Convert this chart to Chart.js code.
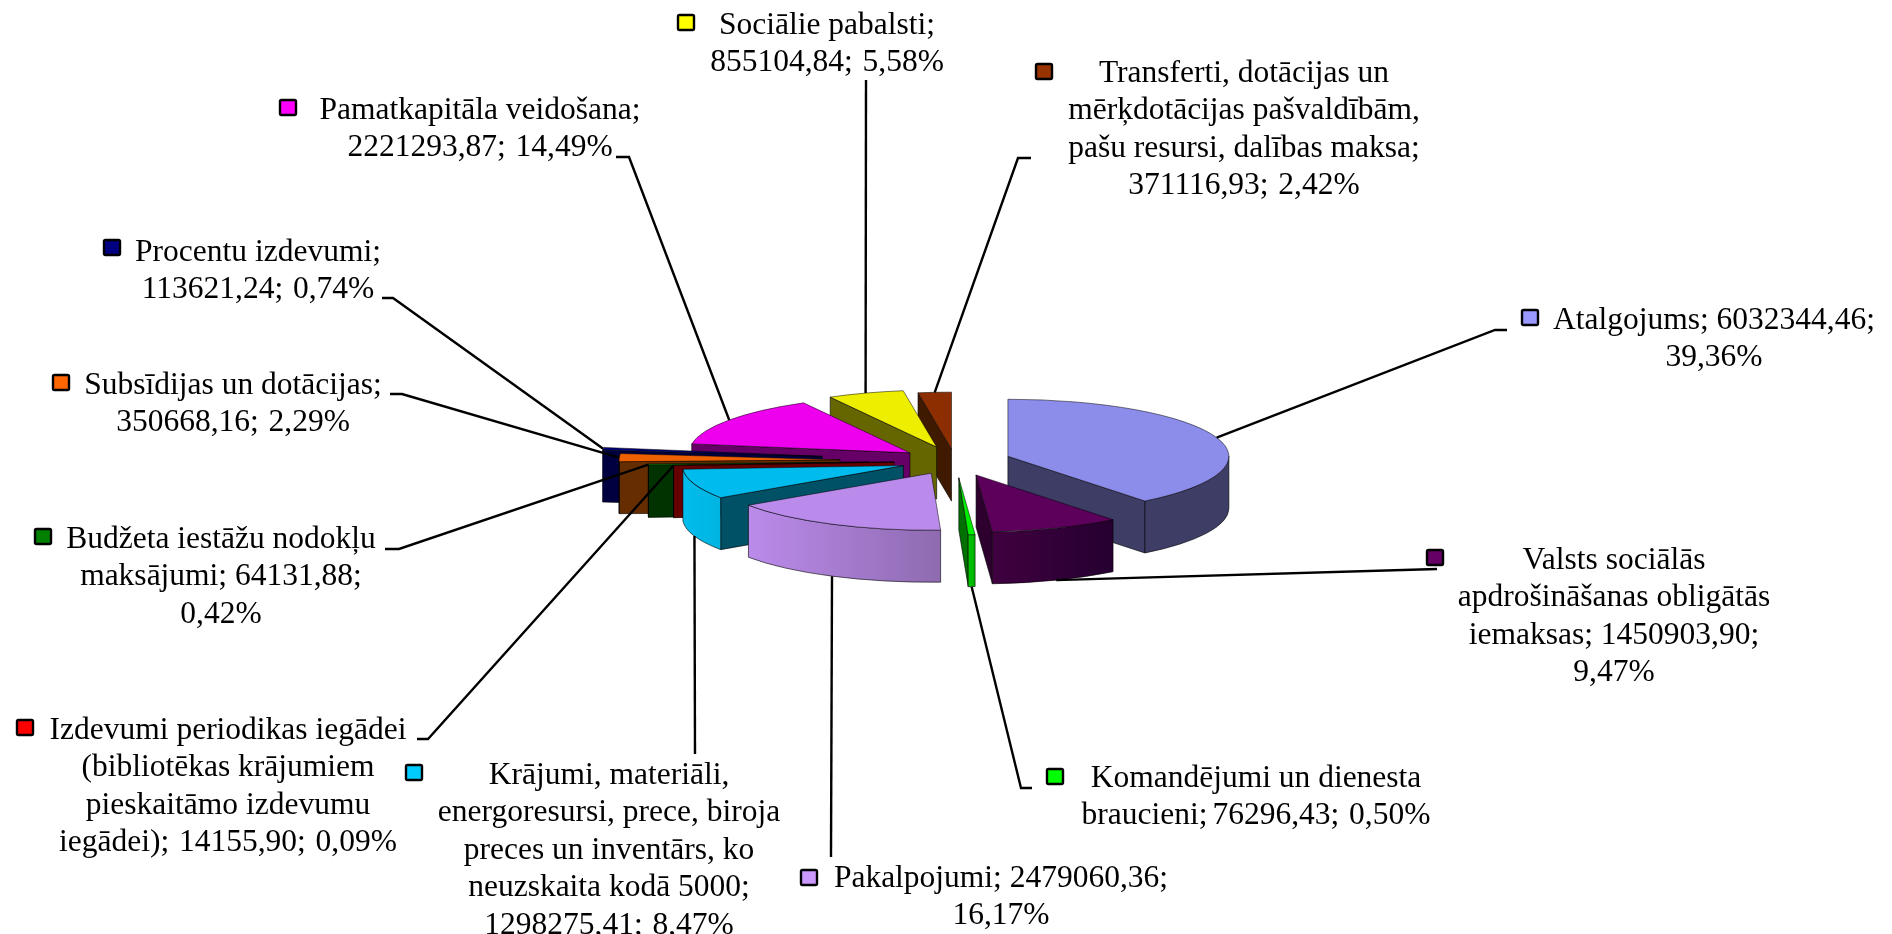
<!DOCTYPE html>
<html>
<head>
<meta charset="utf-8">
<title>Izdevumi</title>
<script src="https://cdn.jsdelivr.net/npm/chart.js@4"></script>
<style>
  html, body { margin: 0; padding: 0; background: #fff; }
  #pie { display: block; }
</style>
</head>
<body>
<canvas id="pie" width="1892" height="934"></canvas>
<script>
/* data */
const categories = ["Atalgojums", "Valsts sociālās apdrošināšanas obligātās iemaksas", "Komandējumi un dienesta braucieni", "Pakalpojumi", "Krājumi, materiāli, energoresursi, prece, biroja preces un inventārs, ko neuzskaita kodā 5000", "Izdevumi periodikas iegādei (bibliotēkas krājumiem pieskaitāmo izdevumu iegādei)", "Budžeta iestāžu nodokļu maksājumi", "Subsīdijas un dotācijas", "Procentu izdevumi", "Pamatkapitāla veidošana", "Sociālie pabalsti", "Transferti, dotācijas un mērķdotācijas pašvaldībām, pašu resursi, dalības maksa"];
const values = [6032344.46, 1450903.90, 76296.43, 2479060.36, 1298275.41, 14155.90, 64131.88, 350668.16, 113621.24, 2221293.87, 855104.84, 371116.93];

const labelLines = [
  ["Atalgojums; 6032344,46;", "39,36%"],
  ["Valsts sociālās", "apdrošināšanas obligātās", "iemaksas; 1450903,90;", "9,47%"],
  ["Komandējumi un dienesta", "braucieni; 76296,43;  0,50%"],
  ["Pakalpojumi; 2479060,36;", "16,17%"],
  ["Krājumi, materiāli,", "energoresursi, prece, biroja", "preces un inventārs, ko", "neuzskaita kodā 5000;", "1298275,41;  8,47%"],
  ["Izdevumi periodikas iegādei", "(bibliotēkas krājumiem", "pieskaitāmo izdevumu", "iegādei);  14155,90;  0,09%"],
  ["Budžeta iestāžu nodokļu", "maksājumi; 64131,88;", "0,42%"],
  ["Subsīdijas un dotācijas;", "350668,16;  2,29%"],
  ["Procentu izdevumi;", "113621,24;  0,74%"],
  ["Pamatkapitāla veidošana;", "2221293,87;  14,49%"],
  ["Sociālie pabalsti;", "855104,84;  5,58%"],
  ["Transferti, dotācijas un", "mērķdotācijas pašvaldībām,", "pašu resursi, dalības maksa;", "371116,93;  2,42%"]
];

/* style */
const keyColors = ["#9999FF", "#660066", "#00FF00", "#CC99FF", "#00CCFF", "#FF0000", "#008000", "#FF6600", "#000080", "#FF00FF", "#FFFF00", "#993300"];
const topColors = ["#8C8CEB", "#5C005C", "#00EE00", "#BB8BEB", "#00BCEE", "#EE0000", "#007000", "#EE6000", "#000078", "#EE00EE", "#EEEE00", "#8C2E00"];
const sideColors = ["#3D3D66", "#2E002E", "#007000", "#5C005C", "#005066", "#660000", "#003300", "#662E00", "#000040", "#660066", "#666600", "#3F1A00"];
const wallLeft = ["#3D3D66", "#400040", "#00C800", "#BB8BEB", "#00BCEE", "#660000", "#003300", "#662E00", "#000040", "#660066", "#666600", "#3F1A00"];
const wallRight = ["#3D3D66", "#250030", "#00B000", "#8E6BB0", "#00B4E0", "#660000", "#003300", "#662E00", "#000040", "#660066", "#666600", "#3F1A00"];

const explode = [56, 58, 65, 53, 54.5, 61, 86, 115, 134, 55, 57, 46];
const drawOrder = [11, 10, 9, 8, 7, 6, 5, 4, 3, 0, 1, 2];

const squash = 0.258;
const depth = 52;

/* label layout: centre x, first baseline y, key x, key y, leader elbow */
const labelX = [1714, 1614, 1256, 1001, 609, 228, 221, 233, 258, 480, 827, 1244];
const labelY = [329, 569, 787, 887, 784, 739, 548, 394, 261, 119, 34, 82];
const keyX = [1522, 1427, 1047, 801, 406, 17, 35, 53, 104, 280, 678, 1036];
const keyY = [310, 550, 769, 870, 765, 720, 529, 375, 240, 100, 15, 64];
const elbows = [
  [[1495, 330], [1507, 330]],
  [[1437, 569]],
  [[1021, 788], [1032, 788]],
  [[831, 857]],
  [[695, 754]],
  [[428, 739], [417, 739]],
  [[399, 549], [385, 549]],
  [[402, 394], [390, 394]],
  [[393, 298], [382, 298]],
  [[629, 157], [616, 157]],
  [[866, 80]],
  [[1018, 158], [1031, 158]]
];

const lineHeight = 37.4;
const labelFont = "31.5px 'Liberation Serif'";

function sliceCentre(arc, i) {
  const mid = (arc.startAngle + arc.endAngle) / 2;
  return {
    x: arc.x + Math.cos(mid) * explode[i],
    y: arc.y + Math.sin(mid) * explode[i] * squash
  };
}

function drawWedgeSide(ctx, c, r, angle, color) {
  const ox = c.x + Math.cos(angle) * r;
  const oy = c.y + Math.sin(angle) * r * squash;
  ctx.beginPath();
  ctx.moveTo(c.x, c.y);
  ctx.lineTo(ox, oy);
  ctx.lineTo(ox, oy + depth);
  ctx.lineTo(c.x, c.y + depth);
  ctx.closePath();
  ctx.fillStyle = color;
  ctx.fill();
  ctx.stroke();
}

function drawOuterWall(ctx, c, r, from, to, i) {
  const ry = r * squash;
  const grad = ctx.createLinearGradient(c.x + Math.cos(from) * r, 0, c.x + Math.cos(to) * r, 0);
  // from runs right to left along the front edge
  grad.addColorStop(0, wallRight[i]);
  grad.addColorStop(1, wallLeft[i]);
  ctx.beginPath();
  ctx.ellipse(c.x, c.y, r, ry, 0, from, to);
  ctx.ellipse(c.x, c.y + depth, r, ry, 0, to, from, true);
  ctx.closePath();
  ctx.fillStyle = grad;
  ctx.fill();
  ctx.stroke();
}

const pie3d = {
  id: "pie3d",
  beforeDatasetsDraw(chart) {
    const ctx = chart.ctx;
    const arcs = chart.getDatasetMeta(0).data;

    drawOrder.forEach(i => {
      const arc = arcs[i];
      const c = sliceCentre(arc, i);
      const r = arc.outerRadius;

      ctx.save();
      ctx.strokeStyle = "rgba(0,0,0,0.75)";
      ctx.lineWidth = 0.8;
      if (Math.cos(arc.startAngle) < -0.001) drawWedgeSide(ctx, c, r, arc.startAngle, sideColors[i]);
      if (Math.cos(arc.endAngle) > 0.001) drawWedgeSide(ctx, c, r, arc.endAngle, sideColors[i]);
      const from = Math.max(arc.startAngle, 0);
      const to = Math.min(arc.endAngle, Math.PI);
      if (to > from) drawOuterWall(ctx, c, r, from, to, i);
      ctx.restore();

      // top face: the library's own arc, squashed
      ctx.save();
      ctx.translate(c.x, c.y);
      ctx.scale(1, squash);
      ctx.translate(-arc.x, -arc.y);
      arc.draw(ctx);
      ctx.restore();
    });
    return false;
  },
  afterDraw(chart) {
    const ctx = chart.ctx;
    const arcs = chart.getDatasetMeta(0).data;

    // leader lines end on the middle of each slice's rim
    arcs.forEach((arc, i) => {
      const c = sliceCentre(arc, i);
      const mid = (arc.startAngle + arc.endAngle) / 2;
      const frontWall = Math.sin(mid) > 0.18;
      const ax = c.x + Math.cos(mid) * arc.outerRadius;
      const ay = c.y + Math.sin(mid) * arc.outerRadius * squash + (frontWall ? depth : 0);
      ctx.save();
      ctx.strokeStyle = "#000";
      ctx.lineWidth = 2.4;
      ctx.beginPath();
      ctx.moveTo(ax, ay);
      elbows[i].forEach(p => ctx.lineTo(p[0], p[1]));
      ctx.stroke();
      ctx.restore();
    });

    // data labels
    ctx.save();
    ctx.font = labelFont;
    ctx.fillStyle = "#000";
    ctx.textAlign = "center";
    ctx.textBaseline = "alphabetic";
    labelLines.forEach((lines, i) => {
      lines.forEach((line, n) => {
        // the double gaps run a little tight in the original
        ctx.wordSpacing = line.includes("  ") ? "-3px" : "0px";
        ctx.fillText(line, labelX[i], labelY[i] + n * lineHeight);
      });
      ctx.fillStyle = keyColors[i];
      ctx.strokeStyle = "#000";
      ctx.lineWidth = 2.4;
      ctx.beginPath();
      ctx.roundRect(keyX[i], keyY[i], 16, 15, 1.5);
      ctx.fill();
      ctx.stroke();
      ctx.fillStyle = "#000";
    });
    ctx.restore();
  }
};

new Chart(document.getElementById("pie"), {
  type: "pie",
  data: {
    labels: categories,
    datasets: [{
      data: values,
      backgroundColor: topColors,
      borderColor: "rgba(0,0,0,0.8)",
      borderWidth: 1
    }]
  },
  options: {
    responsive: false,
    animation: false,
    events: [],
    radius: 221,
    layout: { padding: { left: 18, bottom: 12 } },
    plugins: {
      legend: { display: false },
      tooltip: { enabled: false }
    }
  },
  plugins: [pie3d]
});
</script>
</body>
</html>
